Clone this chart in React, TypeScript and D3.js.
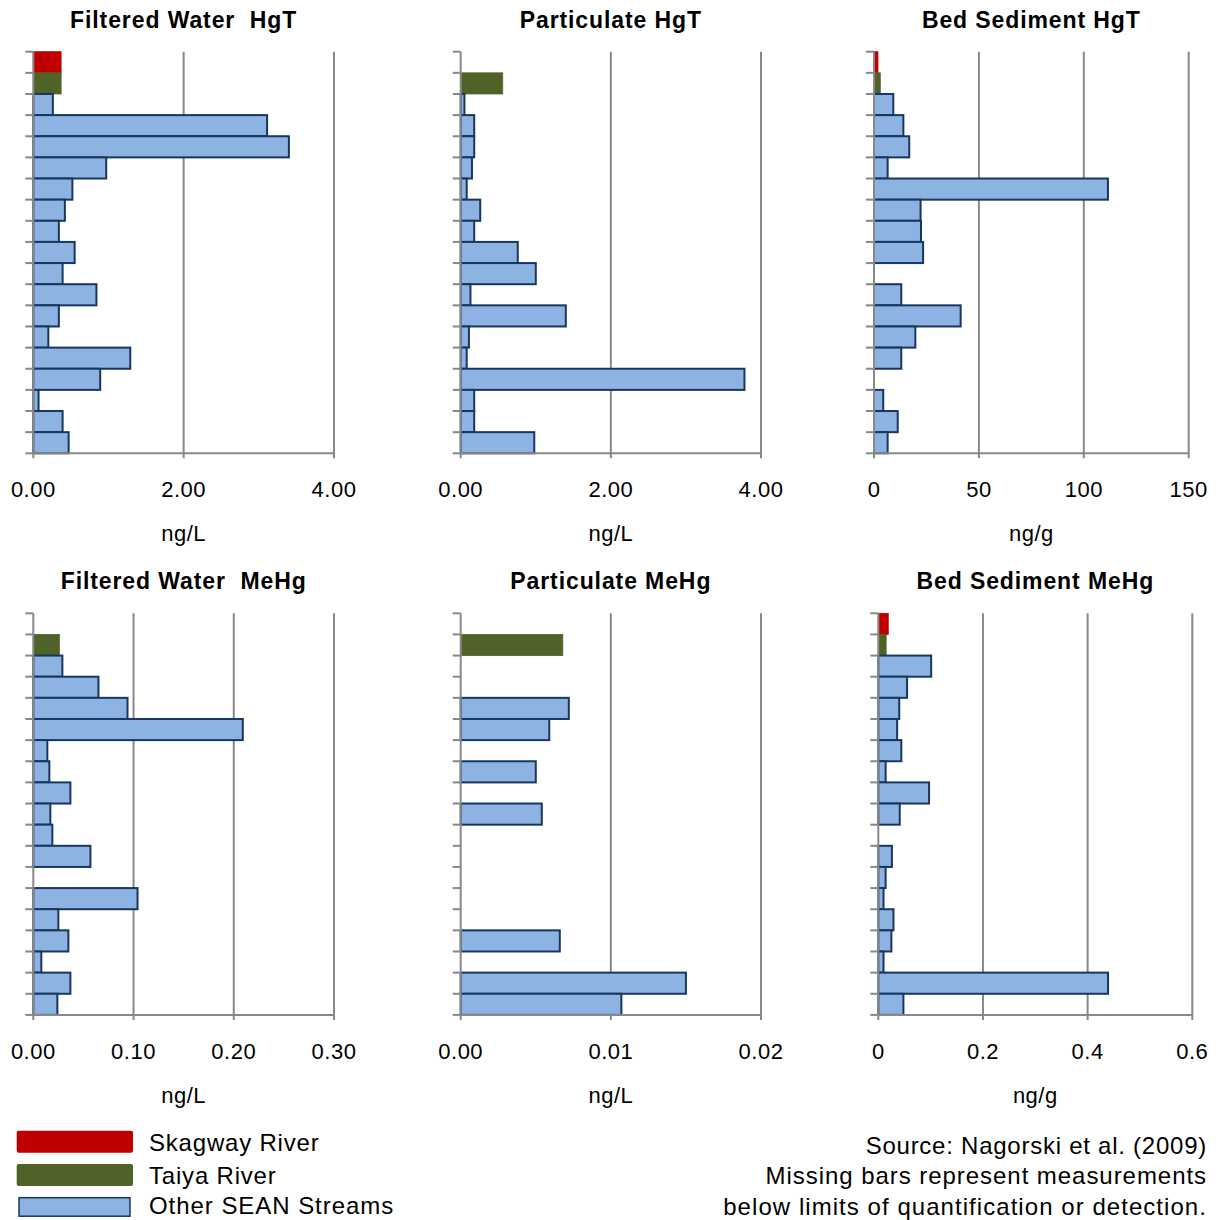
import React from "react";
import * as d3 from "d3";

// ---- Data ----
const sites = [
  "Skagway River", "Taiya River", "Site 3", "Site 4", "Site 5", "Site 6", "Site 7",
  "Site 8", "Site 9", "Site 10", "Site 11", "Site 12", "Site 13", "Site 14",
  "Site 15", "Site 16", "Site 17", "Site 18", "Site 19",
];

const filteredHgT: (number | null)[] = [0.37, 0.37, 0.26, 3.11, 3.40, 0.97, 0.52, 0.42, 0.34, 0.55, 0.39, 0.84, 0.34, 0.20, 1.29, 0.89, 0.07, 0.39, 0.47];
const particulateHgT: (number | null)[] = [null, 0.56, 0.05, 0.18, 0.18, 0.15, 0.08, 0.26, 0.18, 0.76, 1.00, 0.13, 1.40, 0.11, 0.08, 3.78, 0.18, 0.18, 0.98];
const bedHgT: (number | null)[] = [1.9, 3.0, 9.2, 14.0, 16.8, 6.5, 111.5, 22.2, 22.4, 23.4, null, 13.0, 41.3, 19.7, 13.0, null, 4.4, 11.3, 6.5];
const filteredMeHg: (number | null)[] = [null, 0.026, 0.029, 0.065, 0.094, 0.209, 0.014, 0.016, 0.037, 0.017, 0.019, 0.057, null, 0.104, 0.025, 0.035, 0.008, 0.037, 0.024];
const particulateMeHg: (number | null)[] = [null, 0.0068, null, null, 0.0072, 0.0059, null, 0.0050, null, 0.0054, null, null, null, null, null, 0.0066, null, 0.0150, 0.0107];
const bedMeHg: (number | null)[] = [0.019, 0.015, 0.101, 0.055, 0.040, 0.036, 0.044, 0.014, 0.097, 0.041, null, 0.026, 0.014, 0.010, 0.029, 0.025, 0.010, 0.439, 0.048];

const ticksHgTWater = [0, 2, 4];
const labelsHgTWater = ["0.00", "2.00", "4.00"];
const ticksBedHgT = [0, 50, 100, 150];
const labelsBedHgT = ["0", "50", "100", "150"];
const ticksMeHgWater = [0, 0.1, 0.2, 0.3];
const labelsMeHgWater = ["0.00", "0.10", "0.20", "0.30"];
const ticksMeHgPart = [0, 0.01, 0.02];
const labelsMeHgPart = ["0.00", "0.01", "0.02"];
const ticksBedMeHg = [0, 0.2, 0.4, 0.6];
const labelsBedMeHg = ["0", "0.2", "0.4", "0.6"];

const titles = [
  "Filtered Water  HgT", "Particulate HgT", "Bed Sediment HgT",
  "Filtered Water  MeHg", "Particulate MeHg", "Bed Sediment MeHg",
];
const units = ["ng/L", "ng/L", "ng/g", "ng/L", "ng/L", "ng/g"];

const legendLabels = ["Skagway River", "Taiya River", "Other SEAN Streams"];
const noteLines = [
  "Source: Nagorski et al. (2009)",
  "Missing bars represent measurements",
  "below limits of quantification or detection.",
];

// ---- Styling / layout ----
const W = 1216;
const H = 1220;
const FONT = "'Liberation Sans', Arial, Helvetica, sans-serif";
const RED = "#C00000";
const GREEN = "#4F6228";
const BLUE = "#8DB3E2";
const NAVY = "#17375E";
const GRID = "#888888";

const rowTop = [51.7, 613.3];
const plotH = 401.6;

const panels = [
  { values: filteredHgT, ticks: ticksHgTWater, labels: labelsHgTWater, x0: 33.3, x1: 334, row: 0 },
  { values: particulateHgT, ticks: ticksHgTWater, labels: labelsHgTWater, x0: 460.7, x1: 761, row: 0 },
  { values: bedHgT, ticks: ticksBedHgT, labels: labelsBedHgT, x0: 874, x1: 1188.7, row: 0 },
  { values: filteredMeHg, ticks: ticksMeHgWater, labels: labelsMeHgWater, x0: 33.3, x1: 334, row: 1 },
  { values: particulateMeHg, ticks: ticksMeHgPart, labels: labelsMeHgPart, x0: 460.7, x1: 761, row: 1 },
  { values: bedMeHg, ticks: ticksBedMeHg, labels: labelsBedMeHg, x0: 878.3, x1: 1192.3, row: 1 },
];

function barColor(i: number) {
  return i === 0 ? RED : i === 1 ? GREEN : BLUE;
}

function Panel({ p, idx }: { p: typeof panels[number]; idx: number }) {
  const top = rowTop[p.row];
  const bottom = top + plotH;
  const x = d3.scaleLinear().domain([p.ticks[0], p.ticks[p.ticks.length - 1]]).range([p.x0, p.x1]);
  const y = d3.scaleBand<string>().domain(sites).range([top, bottom]).padding(0);
  const cx = (p.x0 + p.x1) / 2;
  const boundaries = sites.map((s) => y(s) as number).concat([bottom]);
  return (
    <g>
      <text x={cx} y={top - 24} textAnchor="middle" fontFamily={FONT} fontWeight="bold" fontSize={23}
        letterSpacing={0.9} style={{ whiteSpace: "pre" }}>{titles[idx]}</text>
      {/* gridlines */}
      {p.ticks.slice(1).map((t) => (
        <line key={t} x1={x(t)} x2={x(t)} y1={top} y2={bottom + 5} stroke={GRID} strokeWidth={2} />
      ))}
      {/* bars */}
      {p.values.map((v, i) => {
        if (v === null) return null;
        const c = barColor(i);
        const blue = i > 1;
        return (
          <rect key={i} x={x(0)} y={y(sites[i]) as number} width={x(v) - x(0)} height={y.bandwidth()}
            fill={c} stroke={blue ? NAVY : c} strokeWidth={blue ? 2 : 0.8} />
        );
      })}
      {/* y axis */}
      <line x1={x(0)} x2={x(0)} y1={top} y2={bottom + 5} stroke={GRID} strokeWidth={2} />
      {boundaries.map((b, i) => (
        <line key={i} x1={x(0) - 8} x2={x(0)} y1={b} y2={b} stroke={GRID} strokeWidth={2} />
      ))}
      {/* x axis */}
      <line x1={x(0)} x2={p.x1} y1={bottom} y2={bottom} stroke={GRID} strokeWidth={2} />
      {p.ticks.map((t, i) => (
        <text key={t} x={x(t)} y={bottom + 44} textAnchor="middle" fontFamily={FONT} fontSize={22}
          letterSpacing={0.5}>{p.labels[i]}</text>
      ))}
      <text x={cx} y={bottom + 88} textAnchor="middle" fontFamily={FONT} fontSize={22} letterSpacing={0.5}>
        {units[idx]}
      </text>
    </g>
  );
}

export default function App() {
  const legendY = [1130.7, 1164, 1197.7];
  const legendFill = [RED, GREEN, BLUE];
  const noteSpacing = [0.75, 0.95, 1.05];
  const noteY = [1153.5, 1184, 1214.5];
  return (
    <svg width={W} height={H} viewBox={`0 0 ${W} ${H}`}
      style={{ position: "absolute", left: 0, top: 0, background: "#fff" }}>
      <rect width={W} height={H} fill="#fff" />
      {panels.map((p, i) => <Panel key={i} p={p} idx={i} />)}
      {/* legend */}
      {legendLabels.map((l, i) => (
        <g key={l}>
          {i < 2 ? (
            <rect x={16.7} y={legendY[i]} width={116.3} height={22} rx={2} fill={legendFill[i]} />
          ) : (
            <rect x={19} y={legendY[i]} width={111} height={18.5} fill={BLUE} stroke={NAVY} strokeWidth={1.5} />
          )}
          <text x={149} y={[1151, 1183.5, 1214][i]} fontFamily={FONT} fontSize={24}
            letterSpacing={i === 2 ? 0.95 : 0.8}>{l}</text>
        </g>
      ))}
      {/* note */}
      {noteLines.map((t, i) => (
        <text key={i} x={1207} y={noteY[i]} textAnchor="end" fontFamily={FONT} fontSize={24}
          letterSpacing={noteSpacing[i]}>{t}</text>
      ))}
    </svg>
  );
}
